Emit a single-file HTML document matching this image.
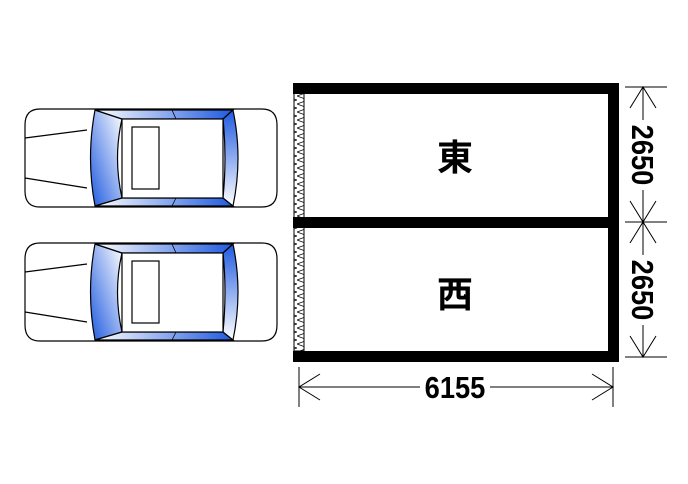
<!DOCTYPE html>
<html><head><meta charset="utf-8"><style>
html,body{margin:0;padding:0;background:#fff;}
svg{display:block}
</style></head><body>
<svg width="688" height="484" viewBox="0 0 688 484" xmlns="http://www.w3.org/2000/svg">
<defs>
<linearGradient id="g1" x1="0" y1="1" x2="1" y2="0">
<stop offset="0" stop-color="#1f5ae0"/><stop offset="1" stop-color="#ffffff"/></linearGradient>
<linearGradient id="g2" x1="0" y1="0" x2="1" y2="0">
<stop offset="0" stop-color="#ffffff"/><stop offset="1" stop-color="#1f5ae0"/></linearGradient>
<linearGradient id="g3" x1="0" y1="0" x2="0" y2="1">
<stop offset="0" stop-color="#1f5ae0"/><stop offset="1" stop-color="#ffffff"/></linearGradient>
<pattern id="zz" width="11" height="8" patternUnits="userSpaceOnUse">
<polyline points="0,0 11,4 0,8" fill="none" stroke="#000" stroke-width="0.8"/>
</pattern>
<g id="car" stroke="#000" stroke-width="1.2">
<path d="M40,109 H262 Q277,109 277,125 V191 Q277,207 262,207 H40 Q25,207 25,191 V125 Q25,109 40,109 Z" fill="#fff"/>
<path d="M95,110 L122,119 Q113,158 122,198 L95,206 Q86,158 95,110 Z" fill="url(#g1)"/>
<path d="M95,110 L233,110 L223,119 L122,119 Z" fill="url(#g2)"/>
<path d="M95,206 L233,206 L223,198 L122,198 Z" fill="url(#g2)"/>
<path d="M233,110 Q243,158 233,206 L223,198 Q227,158 223,119 Z" fill="url(#g3)"/>
<line x1="172" y1="110" x2="176" y2="119" stroke-width="0.8"/>
<line x1="172" y1="206" x2="176" y2="198" stroke-width="0.8"/>
<rect x="122" y="119" width="101" height="79" fill="#fff"/>
<rect x="132" y="127" width="27" height="62" fill="#fff"/>
<line x1="25" y1="138" x2="87" y2="130"/>
<line x1="25" y1="178" x2="87" y2="188"/>
</g>
</defs>
<use href="#car"/>
<use href="#car" transform="translate(0,134)"/>

<rect x="294" y="93" width="10" height="258" fill="url(#zz)" stroke="#000" stroke-width="1"/>
<rect x="293" y="83" width="326" height="11" fill="#000"/>
<rect x="293" y="217" width="326" height="11" fill="#000"/>
<rect x="293" y="351" width="326" height="11" fill="#000"/>
<rect x="608" y="83" width="11" height="279" fill="#000"/>

<g font-family="'Liberation Sans','Noto Sans CJK JP',sans-serif" font-weight="bold" text-anchor="middle">
<text x="455" y="170" font-size="36">東</text>
<text x="455" y="307" font-size="36">西</text>
</g>

<g stroke="#000" stroke-width="1" fill="none">
<line x1="625" y1="87" x2="667" y2="87"/>
<line x1="625" y1="222" x2="667" y2="222"/>
<line x1="625" y1="357" x2="667" y2="357"/>
<line x1="643" y1="87" x2="643" y2="357"/>
<polyline points="630,108 643,87 656,108"/>
<polyline points="630,201 643,222 656,201"/>
<polyline points="630,243 643,222 656,243"/>
<polyline points="630,336 643,357 656,336"/>
<line x1="299" y1="367" x2="299" y2="407"/>
<line x1="613" y1="367" x2="613" y2="407"/>
<line x1="299" y1="387" x2="613" y2="387"/>
<polyline points="320,374 299,387 320,400"/>
<polyline points="592,374 613,387 592,400"/>
</g>
<g font-family="'Liberation Sans',sans-serif" font-weight="bold" font-size="31" text-anchor="middle">
<rect x="420" y="372" width="70" height="30" fill="#fff"/>
<text transform="translate(455,398) scale(0.88,1)">6155</text>
<rect x="628" y="120" width="30" height="70" fill="#fff"/>
<rect x="628" y="255" width="30" height="70" fill="#fff"/>
<text transform="translate(632,155) rotate(90) scale(0.88,1)">2650</text>
<text transform="translate(632,290) rotate(90) scale(0.88,1)">2650</text>
</g>
</svg>
</body></html>
